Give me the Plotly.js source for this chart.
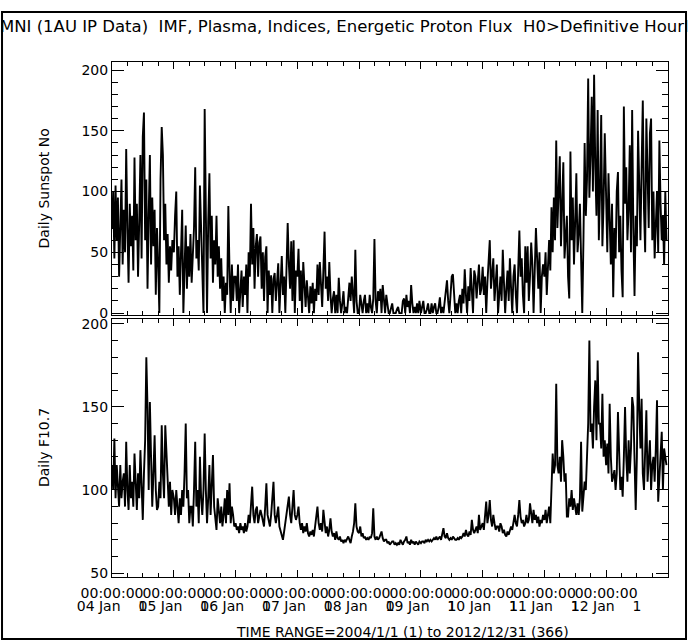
<!DOCTYPE html>
<html><head><meta charset="utf-8">
<script src="https://cdn.plot.ly/plotly-3.0.1.min.js"></script>
<style>body{margin:0;background:#fff}#chart{width:688px;height:641px}</style>
</head><body><div id="chart"></div>
<script>
// Weekly samples (52 per year)
const ssn2004 = [70,100,45,105,60,95,30,80,110,40,85,50,135,70,25,90,55,80,35,128,60,90,30,75,130,45,145,165,60,110,20,80,130,40,95,55,85,15,70,40,0,110,153,130,60,90,40,65,25,55,35,60];
const ssn2005 = [50,80,100,30,55,15,60,85,0,45,72,20,55,30,65,25,50,70,120,45,60,35,105,70,30,0,168,60,0,75,115,45,80,25,60,40,80,30,55,20,45,10,30,0,25,15,88,35,0,40,10,30];
const ssn2006 = [30,10,40,0,25,35,5,30,15,40,0,50,30,90,40,70,20,55,65,30,58,63,20,50,10,46,55,0,35,15,31,0,28,33,10,25,41,0,30,47,15,30,0,45,74,40,20,59,10,60,0,35];
const ssn2007 = [30,53,10,35,0,42,20,5,27,10,0,22,8,25,0,20,10,40,15,42,25,5,35,67,20,30,10,42,15,0,12,18,0,15,0,29,10,0,8,18,0,5,0,12,25,10,30,15,0,52,10,0];
const ssn2008 = [0,15,5,0,10,15,0,8,0,15,5,0,12,61,10,0,18,10,20,0,23,12,0,15,5,0,0,5,8,0,0,0,3,5,0,0,0,10,12,0,15,5,10,0,23,8,0,5,0,8,0,10];
const ssn2009 = [0,5,10,0,0,3,8,0,0,8,0,5,8,0,0,5,13,0,5,0,10,15,27,10,0,15,30,32,12,0,8,0,10,15,0,20,8,36,15,0,22,10,37,18,0,35,30,12,25,40,15,20];
const ssn2010 = [38,15,30,0,25,45,60,20,35,45,10,25,40,0,15,30,10,52,25,0,20,35,10,45,20,0,30,40,15,0,35,68,30,45,15,0,55,25,55,10,30,58,40,0,35,70,45,20,50,0,30,40];
const ssn2011 = [30,50,15,40,60,35,87,50,95,60,142,70,110,129,55,90,124,45,70,80,30,12,133,60,95,40,75,115,50,65,90,30,0,60,140,80,110,193,95,130,178,100,196,120,80,167,60,100,163,55,90,148];
const ssn2012 = [80,50,115,70,40,90,13,70,45,100,116,50,80,35,13,170,90,120,60,85,138,50,167,70,14,80,55,150,90,60,120,175,85,50,160,100,70,148,160,60,100,45,80,100,50,142,90,60,80,40,100,60];

const f2004 = [115,100,131,95,115,100,90,115,95,105,110,90,129,100,88,115,95,105,90,122,100,88,110,95,124,100,82,110,130,180,150,100,153,120,90,110,133,100,88,90,105,95,139,110,95,139,120,100,90,105,85,100];
const f2005 = [95,85,100,90,80,95,85,100,90,110,140,95,100,80,90,90,78,100,129,90,100,80,120,95,85,100,134,100,80,95,115,85,100,121,90,80,76,95,85,80,90,78,85,95,80,100,85,104,80,90,85,78];
const f2006 = [80,76,78,74,80,76,78,74,80,75,78,85,80,90,102,85,80,88,90,80,85,88,85,80,78,90,104,85,80,78,85,95,105,85,80,85,90,78,75,72,70,75,80,85,90,96,85,80,90,100,85,82];
const f2007 = [85,90,80,76,80,74,78,75,80,74,72,75,73,76,72,78,82,90,80,76,80,75,88,78,74,78,72,76,83,75,72,74,70,75,71,70,72,69,70,68,70,69,71,72,70,68,72,75,80,92,78,75];
const f2008 = [74,78,72,74,71,72,70,71,70,72,71,74,89,72,70,72,70,71,73,75,71,69,70,70,68,69,67,68,69,69,67,68,67,68,67,70,68,67,69,70,72,68,69,67,70,68,69,67,69,68,67,69];
const f2009 = [68,69,69,68,70,69,70,69,70,69,70,71,70,72,70,71,72,70,73,77,72,71,74,71,70,71,70,72,71,70,70,71,70,72,71,72,74,72,76,73,72,75,73,82,76,74,76,78,74,85,76,78];
const f2010 = [80,76,85,93,80,85,94,82,78,85,80,76,78,78,75,80,78,74,76,73,72,75,73,75,78,76,80,85,80,78,85,94,84,80,82,78,80,85,80,82,92,84,80,88,82,85,80,84,78,82,80,85];
const f2011 = [82,88,80,85,90,80,100,122,110,115,164,115,110,120,105,130,120,105,110,84,84,95,90,100,88,95,90,85,92,85,95,129,87,95,105,100,122,140,190,135,140,125,150,166,130,178,140,140,125,158,120,130];
const f2012 = [115,128,110,152,120,105,108,112,100,110,147,115,100,108,96,120,150,120,105,130,110,125,156,150,110,88,120,183,150,125,155,110,100,120,148,105,120,130,100,115,120,105,125,154,93,110,120,135,100,125,120,115];

const years = [2004,2005,2006,2007,2008,2009,2010,2011,2012];
const yearLabels = ['04','05','06','07','08','09','10','11','12'];
const ssnByYear = [ssn2004,ssn2005,ssn2006,ssn2007,ssn2008,ssn2009,ssn2010,ssn2011,ssn2012];
const fByYear = [f2004,f2005,f2006,f2007,f2008,f2009,f2010,f2011,f2012];
const timeLabel = '00:00:00';
const titleText = 'OMNI (1AU IP Data)\u00a0\u00a0IMF, Plasma, Indices, Energetic Proton Flux\u00a0\u00a0H0>Definitive Hourly';
const rangeText = 'TIME RANGE=2004/1/1 (1) to 2012/12/31 (366)';

function iso(y, m, d){ return new Date(Date.UTC(y, m, d)).toISOString().slice(0,10); }
const xs = [], ssn = [], f107 = [];
years.forEach((y, i) => {
  ssnByYear[i].forEach((v, k) => { xs.push(iso(y, 0, 1 + 7*k)); ssn.push(v); f107.push(fByYear[i][k]); });
});
const yearTicks = years.map(y => iso(y, 0, 1));
const xRange = [iso(2004,0,1), iso(2013,0,1)];

const black = '#000';
const tf = {family:'DejaVu Sans', size:14, color:black};
const baseX = {
  type:'date', range:xRange, showgrid:false, zeroline:false,
  showline:true, linecolor:black, linewidth:1, mirror:'ticks',
  ticks:'inside', ticklen:7, tickcolor:black, tickwidth:1,
  tickmode:'array', tickvals:yearTicks, tickangle:0,
  minor:{ticks:'inside', ticklen:4, tickcolor:black, dtick:'M3', tick0:iso(2004,0,1), showgrid:false}
};
const baseY = {
  showgrid:false, zeroline:false, showline:true, linecolor:black, linewidth:1, mirror:'ticks',
  ticks:'inside', ticklen:12, tickcolor:black, tickmode:'array',
  minor:{ticks:'inside', ticklen:6, tickcolor:black, dtick:10, showgrid:false},
  tickfont:tf
};

const data = [
  {x:xs, y:ssn, type:'scatter', mode:'lines', line:{color:black, width:1.9}, xaxis:'x', yaxis:'y', hoverinfo:'skip'},
  {x:xs, y:f107, type:'scatter', mode:'lines', line:{color:black, width:1.9}, xaxis:'x2', yaxis:'y2', hoverinfo:'skip'},
  {x:[], y:[], type:'scatter', mode:'lines', xaxis:'x3', yaxis:'y2', hoverinfo:'skip'}
];

const layout = {
  width:688, height:641, margin:{l:112, r:20, t:62, b:64},
  paper_bgcolor:'#fff', plot_bgcolor:'#fff', showlegend:false,
  font:tf,
  xaxis:Object.assign({}, baseX, {anchor:'y', showticklabels:false}),
  xaxis2:Object.assign({}, baseX, {anchor:'y2', showticklabels:true, ticktext:years.map(() => timeLabel),
    tickfont:tf, ticklabelstandoff:3}),
  xaxis3:{type:'date', range:xRange, overlaying:'x2', anchor:'y2', side:'bottom', showgrid:false, zeroline:false,
    showline:false, ticks:'', tickmode:'array', tickvals:yearTicks, tickangle:0,
    ticktext:yearLabels.map(l => l + ' Jan\u00a0\u00a0\u00a0\u00a01'), ticklabelstandoff:19,
    tickfont:tf},
  yaxis:Object.assign({}, baseY, {domain:[0.5087,1], range:[-1.6,206.6], anchor:'x', tickvals:[0,50,100,150,200]}),
  yaxis2:Object.assign({}, baseY, {domain:[0,0.501], range:[47.6,203], anchor:'x2', tickvals:[50,100,150,200]}),
  annotations:[
    {text:titleText, xref:'paper', yref:'paper', x:0.4155, y:1.068, xanchor:'center', yanchor:'middle', showarrow:false,
      font:{family:'DejaVu Sans', size:16.5, color:black}},
    {text:rangeText, xref:'paper', yref:'paper', x:0.5216, y:-0.107, xanchor:'center', yanchor:'middle', showarrow:false,
      font:tf},
    {text:'Daily Sunspot No', xref:'paper', yref:'paper', x:-0.1223, y:0.7545, textangle:-90, xanchor:'center', yanchor:'middle', showarrow:false,
      font:tf},
    {text:'Daily F10.7', xref:'paper', yref:'paper', x:-0.1223, y:0.2505, textangle:-90, xanchor:'center', yanchor:'middle', showarrow:false,
      font:tf}
  ],
  shapes:[
    {type:'rect', xref:'paper', yref:'paper', x0:-0.1978, x1:1.0324, y0:-0.1204, y1:1.0971, line:{color:black, width:2}, fillcolor:'rgba(0,0,0,0)', layer:'above'}
  ]
};

Plotly.newPlot('chart', data, layout, {staticPlot:true, displayModeBar:false});
</script>
</body></html>
